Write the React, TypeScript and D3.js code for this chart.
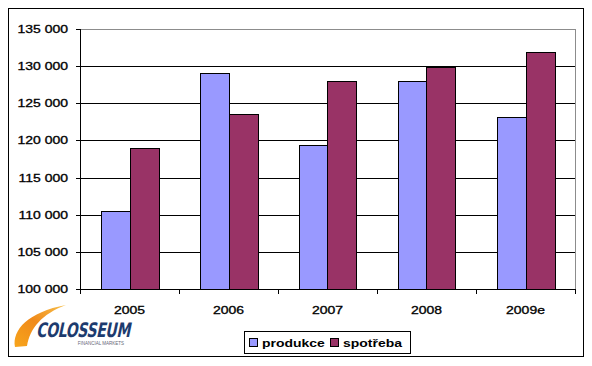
import React from 'react';
import * as d3 from 'd3';

const years = ['2005', '2006', '2007', '2008', '2009e'];
const produkce = [110500, 129100, 119350, 128000, 123100];
const spotreba = [118950, 123550, 128000, 129850, 131900];
const seriesNames = ['produkce', 'spotřeba'];
const seriesColors = ['#9999FF', '#993366'];
const yTicks = [100000, 105000, 110000, 115000, 120000, 125000, 130000, 135000];

const W = 592, H = 366;
const plot = { left: 80, right: 575, top: 29, bottom: 289 };
const FONT = '"Liberation Sans", Arial, sans-serif';
const SX = 1.27; // the source chart is stretched horizontally

const fmt = (v: number) => d3.format(',')(v).replace(/,/g, ' ');

export default function App() {
  const x = d3.scaleBand<string>()
    .domain(years)
    .range([plot.left, plot.right])
    .paddingInner(0.42)
    .paddingOuter(0.21);
  const xs = d3.scaleBand<string>()
    .domain(seriesNames)
    .range([0, x.bandwidth()]);
  const y = d3.scaleLinear()
    .domain([100000, 135000])
    .range([plot.bottom, plot.top]);

  const step = x.step();
  const bounds = d3.range(years.length + 1).map(i => plot.left + i * step);
  const data = [produkce, spotreba];

  return (
    <svg width={W} height={H} style={{ position: 'absolute', left: 0, top: 0, background: '#fff' }}
      fontFamily={FONT}>
      <defs>
        <linearGradient id="swoosh" x1="0" y1="1" x2="1" y2="0">
          <stop offset="0" stopColor="#F7A51C" />
          <stop offset="0.5" stopColor="#F08A1A" />
          <stop offset="1" stopColor="#F7C04A" />
        </linearGradient>
      </defs>
      <rect x={8.5} y={8.5} width={575} height={348} fill="#fff" stroke="#000" strokeWidth={1} />

      {/* plot border top/right */}
      <line x1={plot.left} x2={plot.right} y1={plot.top + 0.5} y2={plot.top + 0.5} stroke="#8c8c8c" />
      <line x1={plot.right + 0.5} x2={plot.right + 0.5} y1={plot.top} y2={plot.bottom} stroke="#8c8c8c" />

      {/* gridlines */}
      {yTicks.slice(1, -1).map(t => (
        <line key={t} x1={plot.left} x2={plot.right} y1={Math.round(y(t)) + 0.5} y2={Math.round(y(t)) + 0.5}
          stroke="#000" />
      ))}

      {/* bars */}
      {years.map((yr, i) => (
        <g key={yr}>
          {seriesNames.map((s, j) => {
            const v = data[j][i];
            const bx = Math.round((x(yr) as number) + (xs(s) as number));
            const top = Math.round(y(v));
            return (
              <rect key={s} x={bx + 0.5} y={top + 0.5} width={Math.round(xs.bandwidth())}
                height={plot.bottom - top} fill={seriesColors[j]} stroke="#000" strokeWidth={1} />
            );
          })}
        </g>
      ))}

      {/* axes */}
      <line x1={plot.left + 0.5} x2={plot.left + 0.5} y1={plot.top} y2={plot.bottom + 4} stroke="#000" />
      <line x1={plot.left - 4} x2={plot.right + 1} y1={plot.bottom + 0.5} y2={plot.bottom + 0.5} stroke="#000" />
      <g stroke="#000" strokeWidth={0.3}>
        {yTicks.map(t => (
          <g key={t}>
            <line x1={plot.left - 4} x2={plot.left} y1={Math.round(y(t)) + 0.5} y2={Math.round(y(t)) + 0.5} strokeWidth={1} />
            <text transform={`translate(68,${y(t) + 4}) scale(${SX},1)`} textAnchor="end" fontSize={11}>
              {fmt(t)}
            </text>
          </g>
        ))}
        {years.map(yr => (
          <text key={yr} transform={`translate(${(x(yr) as number) + x.bandwidth() / 2},314) scale(${SX},1)`}
            textAnchor="middle" fontSize={11}>
            {yr}
          </text>
        ))}
      </g>
      {bounds.map(b => (
        <line key={b} x1={Math.round(b) + 0.5} x2={Math.round(b) + 0.5} y1={plot.bottom} y2={plot.bottom + 5} stroke="#000" />
      ))}

      {/* legend */}
      <rect x={244.5} y={331.5} width={166} height={22} fill="#fff" stroke="#000" />
      {seriesNames.map((s, j) => {
        const lx = j === 0 ? 249 : 330;
        return (
          <g key={s}>
            <rect x={lx + 0.5} y={338.5} width={8} height={8} fill={seriesColors[j]} stroke="#000" />
            <text transform={`translate(${lx + 13},347) scale(${SX},1)`} fontSize={11} fontWeight="bold">
              {s}
            </text>
          </g>
        );
      })}

      {/* logo */}
      <path d="M15,347 C12,330 28,312 66,305 C42,314 30,328 27,346 Z" fill="url(#swoosh)" />
      <text transform="translate(36,337) skewX(-12) scale(0.7,1)" fontSize={20} fontWeight="bold"
        fill="#1D3B6E" fontFamily='"DejaVu Sans", sans-serif' letterSpacing={-0.5}>
        COLOSSEUM
      </text>
      <text x={124} y={344.5} textAnchor="end" fontSize={4.5} fill="#667" fontFamily={FONT}>
        FINANCIAL MARKETS
      </text>
    </svg>
  );
}
